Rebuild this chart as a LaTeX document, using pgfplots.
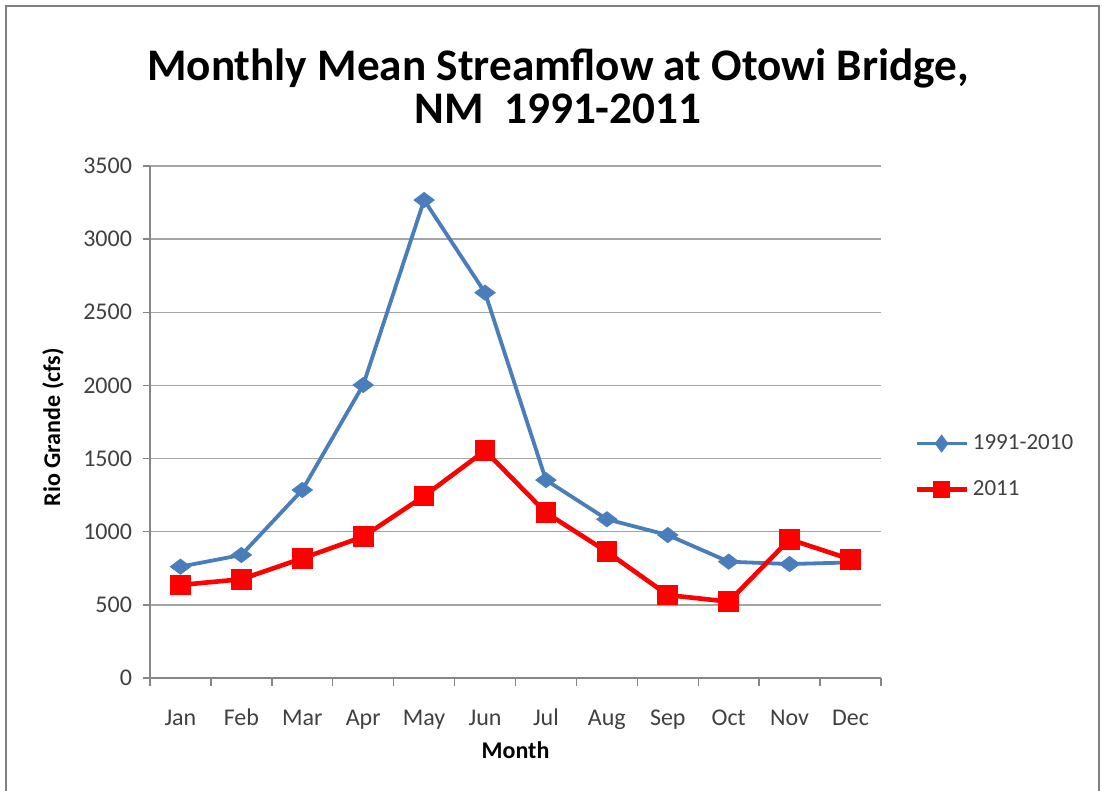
\documentclass[border=0pt]{standalone}
\usepackage{pgfplots}
\pgfplotsset{compat=1.18}
\usepackage{fontspec}
\setmainfont{Carlito}

\definecolor{flowblue}{RGB}{74,126,187}
\definecolor{flowred}{RGB}{255,0,0}
\definecolor{axisgray}{RGB}{134,134,134}
\definecolor{gridgray}{RGB}{165,165,165}
\definecolor{labelgray}{RGB}{64,64,64}
\definecolor{framegray}{RGB}{128,128,128}

\begin{document}
\begin{tikzpicture}
\useasboundingbox (0pt,0pt) rectangle (551pt,395.5pt);
% chart frame
\draw[framegray, line width=1.2pt] (3pt,-2pt) -- (3pt,392.5pt) -- (549.5pt,392.5pt) -- (549.5pt,-2pt);
% title
\node[font=\fontsize{22.6}{21.5}\selectfont\bfseries, align=center] at (279pt,352.5pt)
  {Monthly Mean Streamflow at Otowi Bridge,\\NM\ \ 1991-2011};

\begin{axis}[
  at={(75pt,56.5pt)}, anchor=south west,
  scale only axis, width=365.5pt, height=256pt,
  xmin=0.5, xmax=12.5, ymin=0, ymax=3500,
  xtick={1,...,12},
  xticklabels={Jan,Feb,Mar,Apr,May,Jun,Jul,Aug,Sep,Oct,Nov,Dec},
  minor xtick={0.5,1.5,...,12.5},
  ytick={0,500,...,3500},
  axis lines*=left,
  axis line style={axisgray, line width=0.7pt, -},
  tick align=outside,
  major tick length=3.5pt, minor tick length=4pt,
  tick style={axisgray, line width=0.7pt},
  every major x tick/.append style={draw=none},
  ymajorgrids, grid style={gridgray, line width=0.7pt},
  ticklabel style={font=\fontsize{12}{12}\selectfont, text=labelgray},
  /pgf/number format/assume math mode=true,
  /pgf/number format/set thousands separator={},
  yticklabel style={xshift=-2pt},
  xticklabel style={anchor=base, yshift=-20.5pt},
  xlabel={Month}, ylabel={Rio Grande (cfs)},
  label style={font=\fontsize{12}{12}\selectfont\bfseries},
  xlabel style={at={(axis description cs:0.5,-0.1406)}, anchor=center},
  ylabel style={at={(axis description cs:-0.1327,0.49)}, anchor=center},
  legend style={at={(axis description cs:1.045,0.413)}, anchor=west, draw=none,
    fill=none, font=\fontsize{11.5}{11.5}\selectfont, text=labelgray,
    row sep=10pt, inner sep=0pt},
  legend cell align=left,
  legend image code/.code={
    \draw[#1] (0pt,0pt) -- (25pt,0pt);
    \draw[#1, mark options={scale=0.6}, only marks] plot coordinates {(12.5pt,0pt)};
  },
]
% 1991-2010 monthly means
\addplot[flowblue, line width=1.9pt, mark=diamond*, mark size=5pt,
  mark options={rotate=90, fill=flowblue, draw=flowblue, line width=0.5pt}]
  coordinates {(1,761) (2,841) (3,1285) (4,2003) (5,3267) (6,2634)
               (7,1353) (8,1085) (9,977) (10,795) (11,779) (12,790)};
\addlegendentry{1991-2010}
% 2011 monthly means
\addplot[flowred, line width=2.3pt, mark=square*, mark size=4.9pt,
  mark options={fill=flowred, draw=flowred, line width=0.5pt}]
  coordinates {(1,636) (2,675) (3,818) (4,966) (5,1244) (6,1554)
               (7,1130) (8,863) (9,567) (10,522) (11,948) (12,811)};
\addlegendentry{2011}
\end{axis}
\end{tikzpicture}
\end{document}
